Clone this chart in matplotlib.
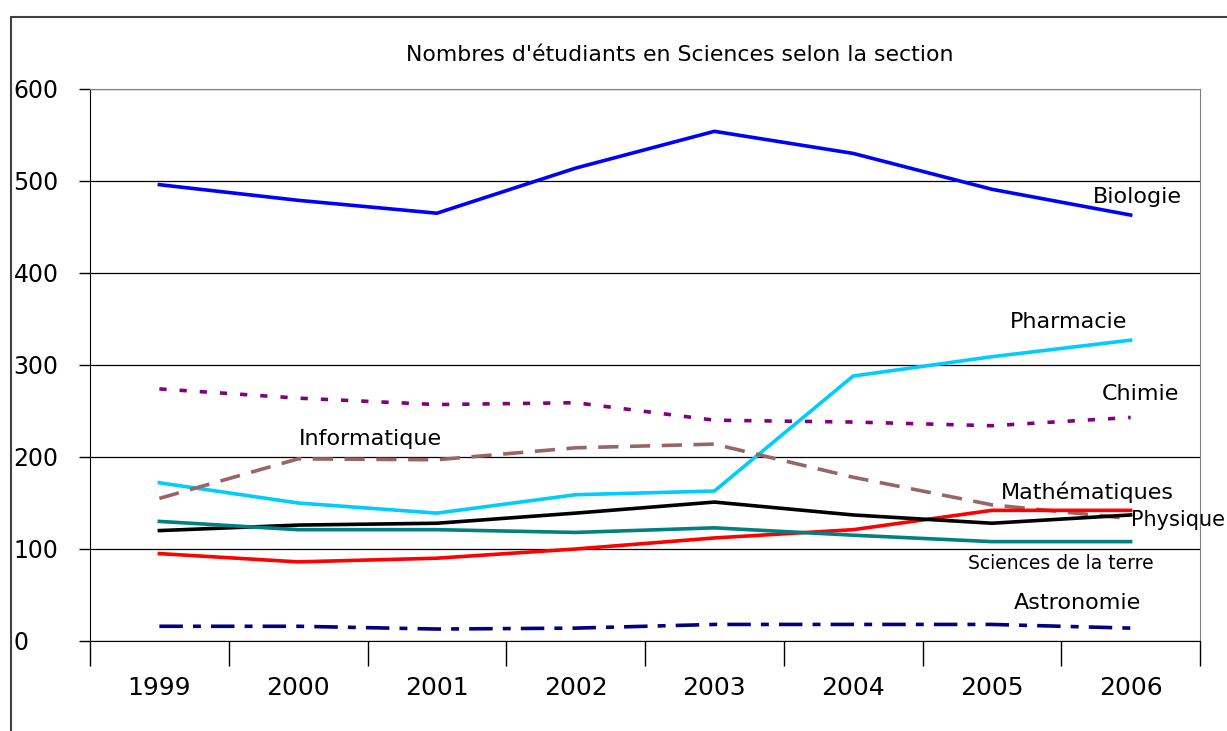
import numpy as np
import matplotlib.pyplot as plt
from matplotlib.patches import Rectangle

plt.rcParams['font.family'] = ['DejaVu Sans']

annees = ['1999', '2000', '2001', '2002', '2003', '2004', '2005', '2006']
biologie = [496, 479, 465, 514, 554, 530, 491, 463]
pharmacie = [172, 150, 139, 159, 163, 288, 309, 327]
chimie = [274, 264, 257, 259, 240, 238, 234, 243]
informatique = [155, 198, 197, 210, 214, 178, 148, 133]
mathematiques = [95, 86, 90, 100, 112, 121, 142, 142]
physique = [120, 126, 128, 139, 151, 137, 128, 137]
sciences_terre = [130, 121, 121, 118, 123, 115, 108, 108]
astronomie = [16, 16, 13, 14, 18, 18, 18, 14]

fig = plt.figure(figsize=(12.27, 7.31), dpi=100)
ax = fig.add_axes([90/1227, 1-641/731, 1110/1227, 552/731])

# cadre du graphique
fig.patches.append(Rectangle((11/1227, -0.05), 1.1, 0.05+1-17/731, transform=fig.transFigure,
                             fill=False, edgecolor='#404040', linewidth=1.5, clip_on=False))

x = np.arange(len(annees))
lw = 2.6
ax.plot(x, biologie, color='#0000FF', lw=lw)
ax.plot(x, pharmacie, color='#00CCFF', lw=lw)
ax.plot(x, chimie, color='#800080', lw=lw, dashes=(2, 3.6))
ax.plot(x, informatique, color='#996666', lw=lw, dashes=(5.6, 3.2))
ax.plot(x, mathematiques, color='#FF0000', lw=lw)
ax.plot(x, physique, color='#000000', lw=lw)
ax.plot(x, sciences_terre, color='#008080', lw=lw)
ax.plot(x, astronomie, color='#000080', lw=lw, dashes=(6.5, 2.8, 2.2, 2.8))

ax.set_xlim(-0.5, 7.5)
ax.set_ylim(0, 600)
ax.set_yticks(range(0, 601, 100))
ax.yaxis.grid(True, color='#000000', lw=0.9)
ax.set_axisbelow(True)
ax.set_xticks(x)
ax.set_xticklabels(annees, fontsize=18)
ax.set_xticks(np.arange(-0.5, 8, 1), minor=True)
ax.tick_params(axis='x', which='major', length=0, pad=25)
ax.tick_params(axis='x', which='minor', length=18, width=1, direction='out')
ax.tick_params(axis='y', labelsize=17, length=8, width=1, pad=47)
for lab in ax.get_yticklabels():
    lab.set_horizontalalignment('left')

ax.spines['top'].set_color('#808080')
ax.spines['right'].set_color('#808080')
ax.spines['left'].set_color('#000000')
ax.spines['bottom'].set_color('#000000')

fig.text(680/1227, 1-55/731, "Nombres d'étudiants en Sciences selon la section",
         ha='center', va='center', fontsize=15.8)

etiquettes = [
    ('Biologie', 7.05, 483, 16),
    ('Pharmacie', 6.55, 347, 16),
    ('Chimie', 7.07, 269, 16),
    ('Informatique', 1.52, 220, 16),
    ('Mathématiques', 6.69, 162, 16),
    ('Sciences de la terre', 6.5, 84, 13.5),
    ('Astronomie', 6.62, 41, 16),
]
for txt, xp, yp, fs in etiquettes:
    ax.text(xp, yp, txt, ha='center', va='center', fontsize=fs, clip_on=False)
ax.text(7.0, 132, 'Physique', ha='left', va='center', fontsize=15, clip_on=False)

fig.savefig('out.png', dpi=100)
